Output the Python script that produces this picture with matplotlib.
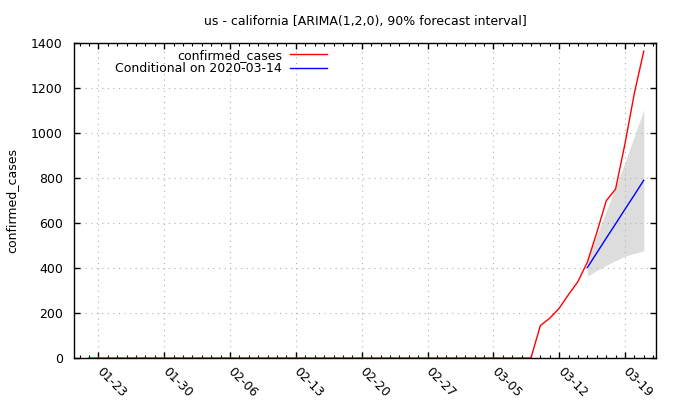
import pandas as pd
import matplotlib
matplotlib.use('Agg')
import matplotlib.pyplot as plt
import matplotlib.dates as mdates

plt.rcParams['font.family'] = ['DejaVu Sans']
plt.rcParams['font.size'] = 9

# observed confirmed cases, 2020-01-22 .. 2020-03-21
dates = pd.date_range('2020-01-22', '2020-03-21', freq='D')
confirmed = [0] * 48 + [144, 177, 221, 282, 340, 426, 557, 698, 751, 952, 1177, 1364]

# ARIMA(1,2,0) forecast conditional on 2020-03-14
fc_dates = pd.date_range('2020-03-15', '2020-03-21', freq='D')
forecast = [402, 467, 532, 596, 661, 725, 790]
lower = [363, 389, 412, 433, 452, 465, 476]
upper = [441, 545, 652, 759, 870, 985, 1104]

tick_dates = pd.date_range('2020-01-23', '2020-03-19', freq='7D')
tick_labels = [d.strftime('%m-%d') for d in tick_dates]

fig = plt.figure(figsize=(6.8, 4.0), dpi=100)
ax = fig.add_axes([74 / 680, 42 / 400, 582 / 680, 315 / 400])

ax.fill_between(fc_dates, lower, upper, color='#dddddd', linewidth=0, zorder=1)
ax.plot(dates, confirmed, color='#ff0000', linewidth=1, label='confirmed_cases', zorder=3)
ax.plot(fc_dates, forecast, color='#0000ff', linewidth=1,
        label='Conditional on 2020-03-14', zorder=3)

start = mdates.date2num(pd.Timestamp('2020-01-22'))
ax.set_xlim(start - 1.6, start + 60.3)
ax.set_ylim(0, 1400)
ax.set_yticks(range(0, 1401, 200))

ax.set_xticks(mdates.date2num(tick_dates))
ax.set_xticklabels(tick_labels, rotation=-45, ha='left', va='center',
                   rotation_mode='anchor')
ax.xaxis.set_minor_locator(mdates.DayLocator())

ax.tick_params(which='both', direction='in', top=True, right=True, colors='black')
ax.tick_params(which='major', length=4, width=1)
ax.tick_params(axis='x', which='major', pad=8)
ax.tick_params(which='minor', length=2, width=0.8)
ax.tick_params(axis='y', which='major', pad=8)

ax.grid(True, which='major', color='#b0b0b0', linestyle=(0, (1, 4)), linewidth=0.8)
for s in ax.spines.values():
    s.set_linewidth(1)
    s.set_zorder(5)

ax.set_ylabel('confirmed_cases')
ax.yaxis.set_label_coords(-0.096, 0.5)

ax.set_title('us - california [ARIMA(1,2,0), 90% forecast interval]', pad=13, fontsize=9)

ax.legend(loc='upper right', bbox_to_anchor=(0.448, 1.006), frameon=False,
          markerfirst=False, handlelength=3.0, handletextpad=0.6,
          labelspacing=0.05, borderaxespad=0.2)

fig.savefig('out.png', dpi=100)
